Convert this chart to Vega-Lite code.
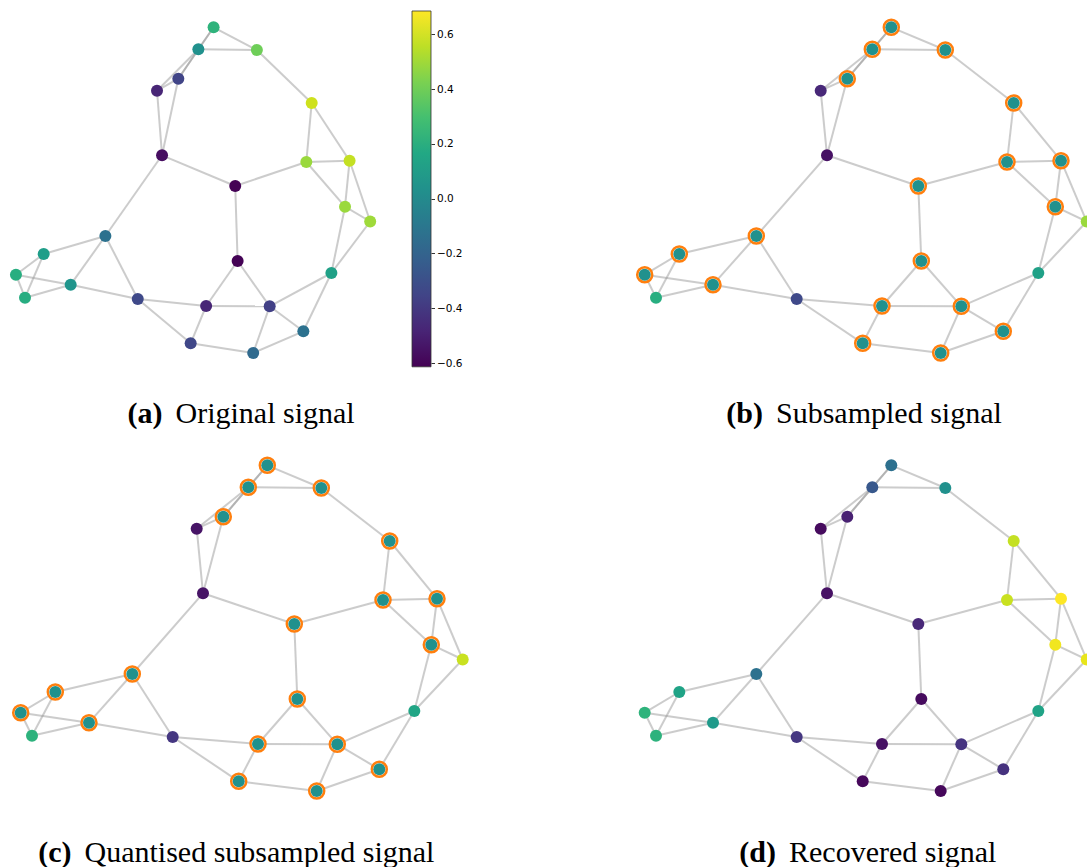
{
  "$schema": "https://vega.github.io/schema/vega-lite/v6.json",
  "padding": 0,
  "background": "white",
  "spacing": 9,
  "config": {"view": {"stroke": null}},
  "datasets": {
    "nodes": [
      {"id": 1, "X": 247.3, "Y": 0.3}, {"id": 2, "X": 228.3, "Y": 22.3}, {"id": 3, "X": 301.3, "Y": 23},
      {"id": 4, "X": 203.3, "Y": 51.7}, {"id": 5, "X": 176.7, "Y": 63.7}, {"id": 6, "X": 369.7, "Y": 76},
      {"id": 7, "X": 183, "Y": 128.3}, {"id": 8, "X": 274.3, "Y": 159}, {"id": 9, "X": 363, "Y": 135},
      {"id": 10, "X": 417, "Y": 133.7}, {"id": 11, "X": 411.3, "Y": 179.7}, {"id": 12, "X": 442.7, "Y": 194.5},
      {"id": 13, "X": 112.3, "Y": 209}, {"id": 14, "X": 35.3, "Y": 227}, {"id": 15, "X": 0.7, "Y": 247.7},
      {"id": 16, "X": 12, "Y": 270.7}, {"id": 17, "X": 69, "Y": 257.7}, {"id": 18, "X": 152.7, "Y": 272},
      {"id": 19, "X": 277.3, "Y": 234}, {"id": 20, "X": 394.3, "Y": 246}, {"id": 21, "X": 238, "Y": 279},
      {"id": 22, "X": 317.3, "Y": 279.3}, {"id": 23, "X": 359.3, "Y": 304.3}, {"id": 24, "X": 218.7, "Y": 316.3},
      {"id": 25, "X": 296.7, "Y": 326}
    ],
    "edges": [
      {"s": 1, "t": 2}, {"s": 1, "t": 3}, {"s": 1, "t": 4}, {"s": 2, "t": 3}, {"s": 2, "t": 4}, {"s": 2, "t": 5},
      {"s": 4, "t": 5}, {"s": 4, "t": 7}, {"s": 5, "t": 7}, {"s": 3, "t": 6}, {"s": 6, "t": 9}, {"s": 6, "t": 10},
      {"s": 9, "t": 10}, {"s": 8, "t": 9}, {"s": 7, "t": 8}, {"s": 7, "t": 13}, {"s": 9, "t": 11}, {"s": 10, "t": 11},
      {"s": 10, "t": 12}, {"s": 11, "t": 12}, {"s": 11, "t": 20}, {"s": 12, "t": 20}, {"s": 8, "t": 19},
      {"s": 13, "t": 14}, {"s": 13, "t": 17}, {"s": 13, "t": 18}, {"s": 14, "t": 15}, {"s": 14, "t": 16},
      {"s": 15, "t": 16}, {"s": 15, "t": 17}, {"s": 16, "t": 17}, {"s": 17, "t": 18}, {"s": 18, "t": 21},
      {"s": 18, "t": 24}, {"s": 19, "t": 21}, {"s": 19, "t": 22}, {"s": 21, "t": 22}, {"s": 21, "t": 24},
      {"s": 22, "t": 25}, {"s": 22, "t": 23}, {"s": 22, "t": 20}, {"s": 23, "t": 20}, {"s": 23, "t": 25},
      {"s": 24, "t": 25}
    ],
    "signals": [
      {"panel": "a", "id": 1, "value": 0.23, "sampled": 0}, {"panel": "a", "id": 2, "value": 0.035, "sampled": 0},
      {"panel": "a", "id": 3, "value": 0.40, "sampled": 0}, {"panel": "a", "id": 4, "value": -0.35, "sampled": 0},
      {"panel": "a", "id": 5, "value": -0.48, "sampled": 0}, {"panel": "a", "id": 6, "value": 0.59, "sampled": 0},
      {"panel": "a", "id": 7, "value": -0.57, "sampled": 0}, {"panel": "a", "id": 8, "value": -0.61, "sampled": 0},
      {"panel": "a", "id": 9, "value": 0.49, "sampled": 0}, {"panel": "a", "id": 10, "value": 0.57, "sampled": 0},
      {"panel": "a", "id": 11, "value": 0.49, "sampled": 0}, {"panel": "a", "id": 12, "value": 0.50, "sampled": 0},
      {"panel": "a", "id": 13, "value": -0.13, "sampled": 0}, {"panel": "a", "id": 14, "value": 0.11, "sampled": 0},
      {"panel": "a", "id": 15, "value": 0.20, "sampled": 0}, {"panel": "a", "id": 16, "value": 0.19, "sampled": 0},
      {"panel": "a", "id": 17, "value": 0.06, "sampled": 0}, {"panel": "a", "id": 18, "value": -0.33, "sampled": 0},
      {"panel": "a", "id": 19, "value": -0.61, "sampled": 0}, {"panel": "a", "id": 20, "value": 0.13, "sampled": 0},
      {"panel": "a", "id": 21, "value": -0.48, "sampled": 0}, {"panel": "a", "id": 22, "value": -0.37, "sampled": 0},
      {"panel": "a", "id": 23, "value": -0.13, "sampled": 0}, {"panel": "a", "id": 24, "value": -0.34, "sampled": 0},
      {"panel": "a", "id": 25, "value": -0.17, "sampled": 0},

      {"panel": "b", "id": 1, "value": 0.035, "sampled": 1}, {"panel": "b", "id": 2, "value": 0.035, "sampled": 1},
      {"panel": "b", "id": 3, "value": 0.035, "sampled": 1}, {"panel": "b", "id": 4, "value": 0.035, "sampled": 1},
      {"panel": "b", "id": 5, "value": -0.47, "sampled": 0}, {"panel": "b", "id": 6, "value": 0.035, "sampled": 1},
      {"panel": "b", "id": 7, "value": -0.56, "sampled": 0}, {"panel": "b", "id": 8, "value": 0.035, "sampled": 1},
      {"panel": "b", "id": 9, "value": 0.035, "sampled": 1}, {"panel": "b", "id": 10, "value": 0.035, "sampled": 1},
      {"panel": "b", "id": 11, "value": 0.035, "sampled": 1}, {"panel": "b", "id": 12, "value": 0.49, "sampled": 0},
      {"panel": "b", "id": 13, "value": 0.035, "sampled": 1}, {"panel": "b", "id": 14, "value": 0.035, "sampled": 1},
      {"panel": "b", "id": 15, "value": 0.035, "sampled": 1}, {"panel": "b", "id": 16, "value": 0.20, "sampled": 0},
      {"panel": "b", "id": 17, "value": 0.035, "sampled": 1}, {"panel": "b", "id": 18, "value": -0.33, "sampled": 0},
      {"panel": "b", "id": 19, "value": 0.035, "sampled": 1}, {"panel": "b", "id": 20, "value": 0.13, "sampled": 0},
      {"panel": "b", "id": 21, "value": 0.035, "sampled": 1}, {"panel": "b", "id": 22, "value": 0.035, "sampled": 1},
      {"panel": "b", "id": 23, "value": 0.035, "sampled": 1}, {"panel": "b", "id": 24, "value": 0.035, "sampled": 1},
      {"panel": "b", "id": 25, "value": 0.035, "sampled": 1},

      {"panel": "c", "id": 1, "value": 0.035, "sampled": 1}, {"panel": "c", "id": 2, "value": 0.035, "sampled": 1},
      {"panel": "c", "id": 3, "value": 0.035, "sampled": 1}, {"panel": "c", "id": 4, "value": 0.035, "sampled": 1},
      {"panel": "c", "id": 5, "value": -0.55, "sampled": 0}, {"panel": "c", "id": 6, "value": 0.035, "sampled": 1},
      {"panel": "c", "id": 7, "value": -0.55, "sampled": 0}, {"panel": "c", "id": 8, "value": 0.035, "sampled": 1},
      {"panel": "c", "id": 9, "value": 0.035, "sampled": 1}, {"panel": "c", "id": 10, "value": 0.035, "sampled": 1},
      {"panel": "c", "id": 11, "value": 0.035, "sampled": 1}, {"panel": "c", "id": 12, "value": 0.58, "sampled": 0},
      {"panel": "c", "id": 13, "value": 0.035, "sampled": 1}, {"panel": "c", "id": 14, "value": 0.035, "sampled": 1},
      {"panel": "c", "id": 15, "value": 0.035, "sampled": 1}, {"panel": "c", "id": 16, "value": 0.22, "sampled": 0},
      {"panel": "c", "id": 17, "value": 0.035, "sampled": 1}, {"panel": "c", "id": 18, "value": -0.41, "sampled": 0},
      {"panel": "c", "id": 19, "value": 0.035, "sampled": 1}, {"panel": "c", "id": 20, "value": 0.15, "sampled": 0},
      {"panel": "c", "id": 21, "value": 0.035, "sampled": 1}, {"panel": "c", "id": 22, "value": 0.035, "sampled": 1},
      {"panel": "c", "id": 23, "value": 0.035, "sampled": 1}, {"panel": "c", "id": 24, "value": 0.035, "sampled": 1},
      {"panel": "c", "id": 25, "value": 0.035, "sampled": 1},

      {"panel": "d", "id": 1, "value": -0.14, "sampled": 0}, {"panel": "d", "id": 2, "value": -0.26, "sampled": 0},
      {"panel": "d", "id": 3, "value": 0.035, "sampled": 0}, {"panel": "d", "id": 4, "value": -0.50, "sampled": 0},
      {"panel": "d", "id": 5, "value": -0.58, "sampled": 0}, {"panel": "d", "id": 6, "value": 0.57, "sampled": 0},
      {"panel": "d", "id": 7, "value": -0.56, "sampled": 0}, {"panel": "d", "id": 8, "value": -0.47, "sampled": 0},
      {"panel": "d", "id": 9, "value": 0.58, "sampled": 0}, {"panel": "d", "id": 10, "value": 0.685, "sampled": 0},
      {"panel": "d", "id": 11, "value": 0.66, "sampled": 0}, {"panel": "d", "id": 12, "value": 0.64, "sampled": 0},
      {"panel": "d", "id": 13, "value": -0.13, "sampled": 0}, {"panel": "d", "id": 14, "value": 0.14, "sampled": 0},
      {"panel": "d", "id": 15, "value": 0.23, "sampled": 0}, {"panel": "d", "id": 16, "value": 0.22, "sampled": 0},
      {"panel": "d", "id": 17, "value": 0.09, "sampled": 0}, {"panel": "d", "id": 18, "value": -0.41, "sampled": 0},
      {"panel": "d", "id": 19, "value": -0.58, "sampled": 0}, {"panel": "d", "id": 20, "value": 0.14, "sampled": 0},
      {"panel": "d", "id": 21, "value": -0.56, "sampled": 0}, {"panel": "d", "id": 22, "value": -0.42, "sampled": 0},
      {"panel": "d", "id": 23, "value": -0.43, "sampled": 0}, {"panel": "d", "id": 24, "value": -0.59, "sampled": 0},
      {"panel": "d", "id": 25, "value": -0.59, "sampled": 0}
    ],
    "captions": [
      {"panel": "a", "bold": "(a)", "rest": "Original signal"},
      {"panel": "b", "bold": "(b)", "rest": "Subsampled signal"},
      {"panel": "c", "bold": "(c)", "rest": "Quantised subsampled signal"},
      {"panel": "d", "bold": "(d)", "rest": "Recovered signal"}
    ]
  },
  "vconcat": [
    {
      "bounds": "flush",
      "spacing": 12,
      "hconcat": [
        {
          "width": 400, "height": 429,
          "layer": [
            {
              "data": {"name": "edges"},
              "transform": [
                {"lookup": "s", "from": {"data": {"name": "nodes"}, "key": "id", "fields": ["X", "Y"]}, "as": ["X1", "Y1"]},
                {"lookup": "t", "from": {"data": {"name": "nodes"}, "key": "id", "fields": ["X", "Y"]}, "as": ["X2", "Y2"]}
              ],
              "mark": {"type": "rule", "color": "#999999", "strokeWidth": 2, "opacity": 0.5},
              "encoding": {
                "x": {"field": "X1", "type": "quantitative", "scale": {"domain": [-19.2, 479.9], "nice": false, "zero": false}, "axis": null},
                "y": {"field": "Y1", "type": "quantitative", "scale": {"domain": [-27, 402], "reverse": true, "nice": false, "zero": false}, "axis": null},
                "x2": {"field": "X2"},
                "y2": {"field": "Y2"}
              }
            },
            {
              "data": {"name": "signals"},
              "transform": [
                {"filter": "datum.panel === 'a'"},
                {"lookup": "id", "from": {"data": {"name": "nodes"}, "key": "id", "fields": ["X", "Y"]}}
              ],
              "mark": {"type": "circle", "size": 144, "opacity": 1},
              "encoding": {
                "x": {"field": "X", "type": "quantitative"},
                "y": {"field": "Y", "type": "quantitative"},
                "color": {"field": "value", "type": "quantitative", "scale": {"scheme": "viridis", "domain": [-0.6135, 0.685]}, "legend": null}
              }
            },
            {
              "data": {"name": "captions"},
              "transform": [{"filter": "datum.panel === 'a'"}],
              "mark": {"type": "text", "align": "right", "baseline": "alphabetic", "dx": -6.5, "font": "Liberation Serif", "fontSize": 30, "fontWeight": "bold", "color": "#000"},
              "encoding": {"x": {"datum": 191.7}, "y": {"datum": 396}, "text": {"field": "bold"}}
            },
            {
              "data": {"name": "captions"},
              "transform": [{"filter": "datum.panel === 'a'"}],
              "mark": {"type": "text", "align": "left", "baseline": "alphabetic", "dx": 6.5, "font": "Liberation Serif", "fontSize": 30, "color": "#000"},
              "encoding": {"x": {"datum": 191.7}, "y": {"datum": 396}, "text": {"field": "rest"}}
            }
          ]
        },
        {
          "width": 19, "height": 429,
          "data": {"values": [{"lo": -0.6135, "hi": 0.685}]},
          "mark": {
            "type": "rect", "stroke": "#333333", "strokeWidth": 0.8,
            "fill": {"gradient": "linear", "x1": 0, "y1": 1, "x2": 0, "y2": 0, "stops": [
              {"offset": 0, "color": "#440154"}, {"offset": 0.1, "color": "#482475"}, {"offset": 0.2, "color": "#414487"},
              {"offset": 0.3, "color": "#355f8d"}, {"offset": 0.4, "color": "#2a788e"}, {"offset": 0.5, "color": "#21918c"},
              {"offset": 0.6, "color": "#22a884"}, {"offset": 0.7, "color": "#44bf70"}, {"offset": 0.8, "color": "#7ad151"},
              {"offset": 0.9, "color": "#bddf26"}, {"offset": 1, "color": "#fde725"}
            ]}
          },
          "encoding": {
            "y": {"field": "lo", "type": "quantitative", "scale": {"domain": [-0.8405, 0.7251], "nice": false, "zero": false},
              "axis": {"orient": "right", "values": [-0.6, -0.4, -0.2, 0, 0.2, 0.4, 0.6], "format": ".1f", "grid": false, "domain": false,
                "tickSize": 3.5, "tickColor": "#000", "tickWidth": 0.8, "labelFont": "DejaVu Sans", "labelFontSize": 10.5,
                "labelColor": "#000", "labelPadding": 2, "title": null}},
            "y2": {"field": "hi"}
          }
        },
        {
          "width": 644, "height": 429,
          "layer": [
            {
              "data": {"name": "edges"},
              "transform": [
                {"lookup": "s", "from": {"data": {"name": "nodes"}, "key": "id", "fields": ["X", "Y"]}, "as": ["X1", "Y1"]},
                {"lookup": "t", "from": {"data": {"name": "nodes"}, "key": "id", "fields": ["X", "Y"]}, "as": ["X2", "Y2"]}
              ],
              "mark": {"type": "rule", "color": "#999999", "strokeWidth": 2, "opacity": 0.5, "clip": true},
              "encoding": {
                "x": {"field": "X1", "type": "quantitative", "scale": {"domain": [-201, 443], "nice": false, "zero": false}, "axis": null},
                "y": {"field": "Y1", "type": "quantitative", "scale": {"domain": [-27, 402], "reverse": true, "nice": false, "zero": false}, "axis": null},
                "x2": {"field": "X2"},
                "y2": {"field": "Y2"}
              }
            },
            {
              "data": {"name": "signals"},
              "transform": [
                {"filter": "datum.panel === 'b' && datum.sampled === 1"},
                {"lookup": "id", "from": {"data": {"name": "nodes"}, "key": "id", "fields": ["X", "Y"]}}
              ],
              "mark": {"type": "circle", "size": 225, "fill": "white", "stroke": "#ff7f0e", "strokeWidth": 2.5, "opacity": 1, "clip": true},
              "encoding": {"x": {"field": "X", "type": "quantitative"}, "y": {"field": "Y", "type": "quantitative"}}
            },
            {
              "data": {"name": "signals"},
              "transform": [
                {"filter": "datum.panel === 'b'"},
                {"lookup": "id", "from": {"data": {"name": "nodes"}, "key": "id", "fields": ["X", "Y"]}}
              ],
              "mark": {"type": "circle", "size": 144, "opacity": 1, "clip": true},
              "encoding": {
                "x": {"field": "X", "type": "quantitative"},
                "y": {"field": "Y", "type": "quantitative"},
                "color": {"field": "value", "type": "quantitative", "scale": {"scheme": "viridis", "domain": [-0.6135, 0.685]}, "legend": null}
              }
            },
            {
              "data": {"name": "captions"},
              "transform": [{"filter": "datum.panel === 'b'"}],
              "mark": {"type": "text", "align": "right", "baseline": "alphabetic", "dx": -6.5, "font": "Liberation Serif", "fontSize": 30, "fontWeight": "bold", "color": "#000"},
              "encoding": {"x": {"datum": 125.5}, "y": {"datum": 396}, "text": {"field": "bold"}}
            },
            {
              "data": {"name": "captions"},
              "transform": [{"filter": "datum.panel === 'b'"}],
              "mark": {"type": "text", "align": "left", "baseline": "alphabetic", "dx": 6.5, "font": "Liberation Serif", "fontSize": 30, "color": "#000"},
              "encoding": {"x": {"datum": 125.5}, "y": {"datum": 396}, "text": {"field": "rest"}}
            }
          ]
        }
      ]
    },
    {
      "bounds": "flush",
      "spacing": 161,
      "hconcat": [
        {
          "width": 463, "height": 429,
          "layer": [
            {
              "data": {"name": "edges"},
              "transform": [
                {"lookup": "s", "from": {"data": {"name": "nodes"}, "key": "id", "fields": ["X", "Y"]}, "as": ["X1", "Y1"]},
                {"lookup": "t", "from": {"data": {"name": "nodes"}, "key": "id", "fields": ["X", "Y"]}, "as": ["X2", "Y2"]}
              ],
              "mark": {"type": "rule", "color": "#999999", "strokeWidth": 2, "opacity": 0.5},
              "encoding": {
                "x": {"field": "X1", "type": "quantitative", "scale": {"domain": [-20, 443], "nice": false, "zero": false}, "axis": null},
                "y": {"field": "Y1", "type": "quantitative", "scale": {"domain": [-27, 402], "reverse": true, "nice": false, "zero": false}, "axis": null},
                "x2": {"field": "X2"},
                "y2": {"field": "Y2"}
              }
            },
            {
              "data": {"name": "signals"},
              "transform": [
                {"filter": "datum.panel === 'c' && datum.sampled === 1"},
                {"lookup": "id", "from": {"data": {"name": "nodes"}, "key": "id", "fields": ["X", "Y"]}}
              ],
              "mark": {"type": "circle", "size": 225, "fill": "white", "stroke": "#ff7f0e", "strokeWidth": 2.5, "opacity": 1},
              "encoding": {"x": {"field": "X", "type": "quantitative"}, "y": {"field": "Y", "type": "quantitative"}}
            },
            {
              "data": {"name": "signals"},
              "transform": [
                {"filter": "datum.panel === 'c'"},
                {"lookup": "id", "from": {"data": {"name": "nodes"}, "key": "id", "fields": ["X", "Y"]}}
              ],
              "mark": {"type": "circle", "size": 144, "opacity": 1},
              "encoding": {
                "x": {"field": "X", "type": "quantitative"},
                "y": {"field": "Y", "type": "quantitative"},
                "color": {"field": "value", "type": "quantitative", "scale": {"scheme": "viridis", "domain": [-0.6135, 0.685]}, "legend": null}
              }
            },
            {
              "data": {"name": "captions"},
              "transform": [{"filter": "datum.panel === 'c'"}],
              "mark": {"type": "text", "align": "right", "baseline": "alphabetic", "dx": -6.5, "font": "Liberation Serif", "fontSize": 30, "fontWeight": "bold", "color": "#000"},
              "encoding": {"x": {"datum": 58}, "y": {"datum": 397}, "text": {"field": "bold"}}
            },
            {
              "data": {"name": "captions"},
              "transform": [{"filter": "datum.panel === 'c'"}],
              "mark": {"type": "text", "align": "left", "baseline": "alphabetic", "dx": 6.5, "font": "Liberation Serif", "fontSize": 30, "color": "#000"},
              "encoding": {"x": {"datum": 58}, "y": {"datum": 397}, "text": {"field": "rest"}}
            }
          ]
        },
        {
          "width": 463, "height": 429,
          "layer": [
            {
              "data": {"name": "edges"},
              "transform": [
                {"lookup": "s", "from": {"data": {"name": "nodes"}, "key": "id", "fields": ["X", "Y"]}, "as": ["X1", "Y1"]},
                {"lookup": "t", "from": {"data": {"name": "nodes"}, "key": "id", "fields": ["X", "Y"]}, "as": ["X2", "Y2"]}
              ],
              "mark": {"type": "rule", "color": "#999999", "strokeWidth": 2, "opacity": 0.5, "clip": true},
              "encoding": {
                "x": {"field": "X1", "type": "quantitative", "scale": {"domain": [-20, 443], "nice": false, "zero": false}, "axis": null},
                "y": {"field": "Y1", "type": "quantitative", "scale": {"domain": [-27, 402], "reverse": true, "nice": false, "zero": false}, "axis": null},
                "x2": {"field": "X2"},
                "y2": {"field": "Y2"}
              }
            },
            {
              "data": {"name": "signals"},
              "transform": [
                {"filter": "datum.panel === 'd'"},
                {"lookup": "id", "from": {"data": {"name": "nodes"}, "key": "id", "fields": ["X", "Y"]}}
              ],
              "mark": {"type": "circle", "size": 144, "opacity": 1, "clip": true},
              "encoding": {
                "x": {"field": "X", "type": "quantitative"},
                "y": {"field": "Y", "type": "quantitative"},
                "color": {"field": "value", "type": "quantitative", "scale": {"scheme": "viridis", "domain": [-0.6135, 0.685]}, "legend": null}
              }
            },
            {
              "data": {"name": "captions"},
              "transform": [{"filter": "datum.panel === 'd'"}],
              "mark": {"type": "text", "align": "right", "baseline": "alphabetic", "dx": -6.5, "font": "Liberation Serif", "fontSize": 30, "fontWeight": "bold", "color": "#000"},
              "encoding": {"x": {"datum": 138.5}, "y": {"datum": 397}, "text": {"field": "bold"}}
            },
            {
              "data": {"name": "captions"},
              "transform": [{"filter": "datum.panel === 'd'"}],
              "mark": {"type": "text", "align": "left", "baseline": "alphabetic", "dx": 6.5, "font": "Liberation Serif", "fontSize": 30, "color": "#000"},
              "encoding": {"x": {"datum": 138.5}, "y": {"datum": 397}, "text": {"field": "rest"}}
            }
          ]
        }
      ]
    }
  ]
}
